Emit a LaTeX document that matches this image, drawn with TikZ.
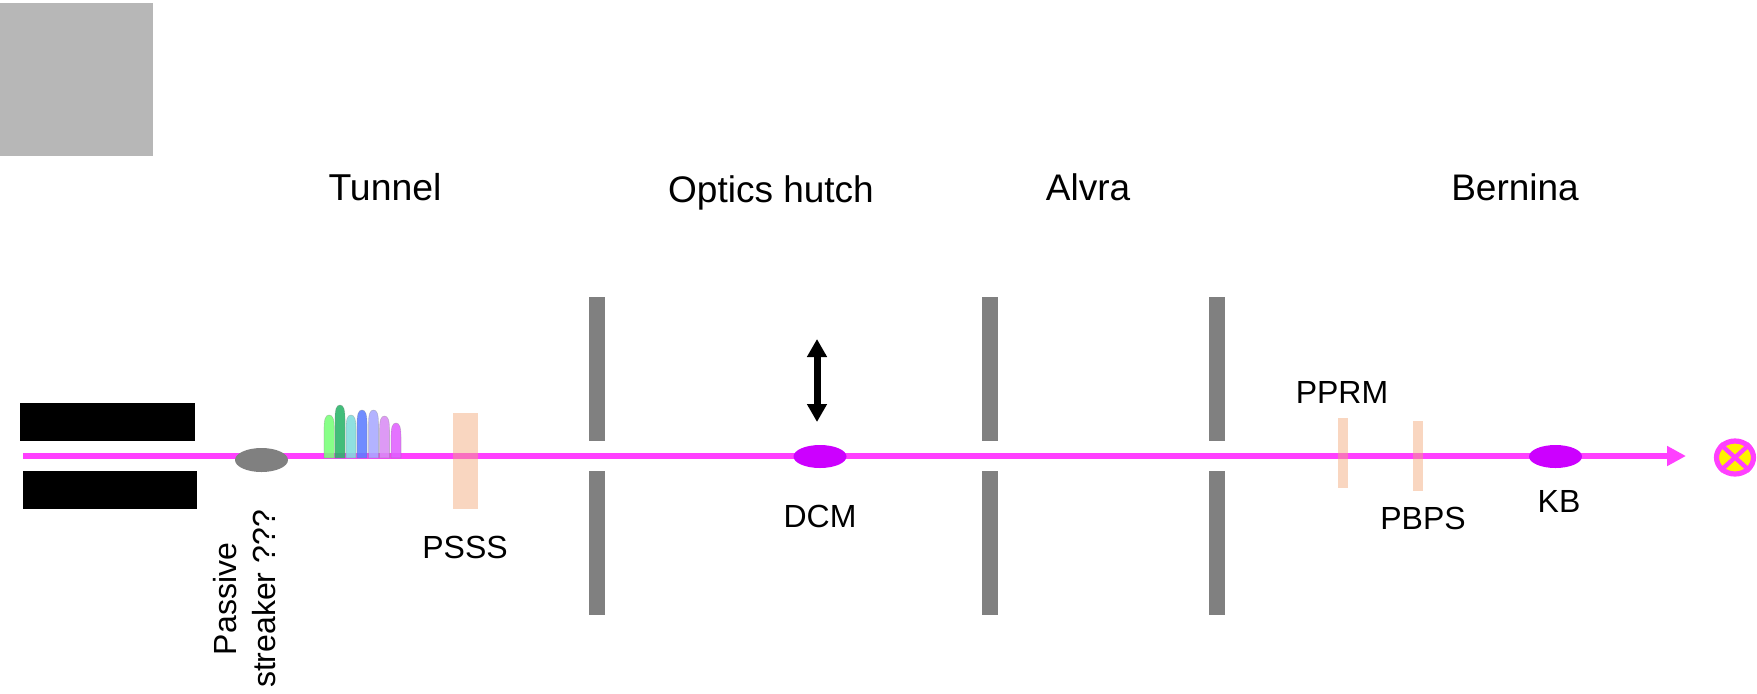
\documentclass[tikz,border=0pt]{standalone}
\usepackage{fontspec}
\setmainfont{Liberation Sans}
\usetikzlibrary{arrows.meta,shapes.geometric}
\definecolor{beam}{HTML}{FF40FF}
\definecolor{violet}{HTML}{CC00FF}
\definecolor{midgray}{HTML}{808080}
\definecolor{lightgray}{HTML}{B7B7B7}
\definecolor{peach}{HTML}{F2A879}
\definecolor{pa}{HTML}{78FF78}
\definecolor{pb}{HTML}{28B468}
\definecolor{pc}{HTML}{80DCDC}
\definecolor{pd}{HTML}{5C7CFF}
\definecolor{pe}{HTML}{A8A8FF}
\definecolor{pf}{HTML}{D88CF4}
\definecolor{pg}{HTML}{E060FF}
\tikzset{
  box/.style={rectangle,draw=none,inner sep=0pt,outer sep=0pt},
  oval/.style={ellipse,draw=none,inner sep=0pt,outer sep=0pt,minimum width=26.5pt,minimum height=11.5pt},
  big/.style={font=\fontsize{18.5}{22}\selectfont,inner sep=0pt},
  small/.style={font=\fontsize{16}{19.5}\selectfont,inner sep=0pt},
  wall/.style={box,fill=midgray,minimum width=8pt},
  filter/.style={box,fill=peach,fill opacity=0.47},
  pulse/.style={draw=gray,draw opacity=0.35,line width=0.3pt,fill opacity=0.88},
}
\newcommand{\pulseshape}[4]{% x left, x right, top y, colour
  \path[pulse,fill=#4] (#1,458) -- (#1,{#3+14}) .. controls (#1,{#3+4}) and ({#1+1.5},#3) .. ({(#1+#2)/2},#3)
    .. controls ({#2-1.5},#3) and (#2,{#3+4}) .. (#2,{#3+14}) -- (#2,458) -- cycle;}
\begin{document}
\begin{tikzpicture}[x=0.5pt,y=-0.5pt]
\useasboundingbox (0,0) rectangle (1757,693);
% corner square and black blocks
\node[box,fill=lightgray,minimum width=76.25pt,minimum height=76.5pt] (sq) at (76.25,79) {};
\node[box,fill=black,minimum width=87.5pt,minimum height=19pt] (blockA) at (107.5,422) {};
\node[box,fill=black,minimum width=87pt,minimum height=19pt] (blockB) at (110,490) {};
% walls
\foreach \n/\x in {a/597,b/990,c/1217}{
  \node[wall,minimum height=72pt] (wall\n up) at (\x,369) {};
  \node[wall,minimum height=72pt] (wall\n lo) at (\x,543) {};
}
% beam
\coordinate (beamstart) at (23,456);
\node[box,minimum size=0pt] (tip) at (1686,456) {};
\draw[beam,line width=3.2pt,-{Triangle[length=9.5pt,width=9.5pt]}] (beamstart) -- (tip);
% filters
\node[filter,minimum width=12.5pt,minimum height=48pt] (psss) at (465.5,461) {};
\node[filter,minimum width=5pt,minimum height=35pt] (pprm) at (1343,453) {};
\node[filter,minimum width=5pt,minimum height=35pt] (pbps) at (1418,456) {};
% pulses
\pulseshape{324}{334.3}{415}{pa}
\pulseshape{335}{345}{405}{pb}
\pulseshape{346}{356}{415}{pc}
\pulseshape{357}{367}{410}{pd}
\pulseshape{368.5}{378.5}{410}{pe}
\pulseshape{379.5}{389.5}{416}{pf}
\pulseshape{391}{401}{423}{pg}
% ovals
\node[oval,fill=midgray,minimum height=12pt] (streaker) at (261.5,460) {};
\node[oval,fill=violet] (dcm) at (820,456.5) {};
\node[oval,fill=violet] (kb) at (1555.5,456.5) {};
% DCM motion arrow
\coordinate (motA) at (817,339);
\coordinate (motB) at (817,422);
\draw[black,line width=3.5pt,{Triangle[length=9pt,width=9.5pt]}-{Triangle[length=9pt,width=9.5pt]}] (motA) -- (motB);
% target
\node[ellipse,draw=beam,fill=yellow,line width=2.6pt,minimum width=18.5pt,minimum height=16.5pt,inner sep=0pt] (target) at (1735,457.5) {};
\draw[beam,line width=2.2pt] (target.north west) -- (target.south east);
\draw[beam,line width=2.2pt] (target.north east) -- (target.south west);
% labels
\node[big,font=\fontsize{18.7}{22}\selectfont] (tTunnel) at (385,187) {Tunnel};
\node[big] (tOptics) at (771,192.5) {Optics hutch};
\node[big] (tAlvra) at (1088,187) {Alvra};
\node[big] (tBernina) at (1515,187) {Bernina};
\node[small] (tPSSS) at (465,547) {PSSS};
\node[small] (tDCM) at (820,516) {DCM};
\node[small] (tPPRM) at (1342,392) {PPRM};
\node[small] (tPBPS) at (1423,518) {PBPS};
\node[small] (tKB) at (1559,501) {KB};
\node[small,rotate=90,align=center] (tPass) at (245,599) {Passive\\streaker ???};
\end{tikzpicture}
\end{document}
